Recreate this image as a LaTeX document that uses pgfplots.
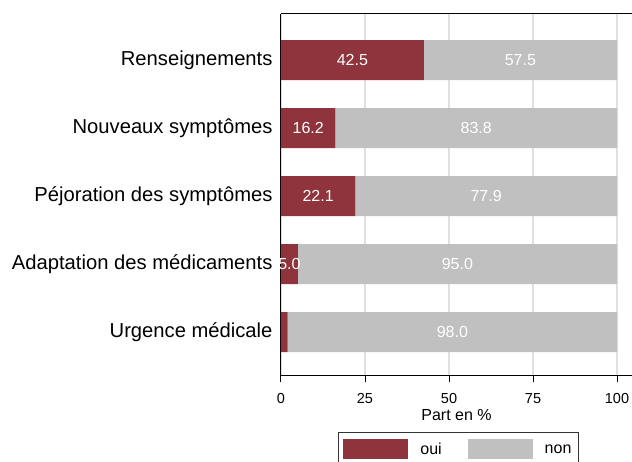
\documentclass[border=0pt]{standalone}
\usepackage{pgfplots}
\pgfplotsset{compat=1.18}
\usepackage{fontspec}
\setmainfont{Liberation Sans}
\definecolor{oui}{HTML}{8F343C}
\definecolor{non}{HTML}{C0C0C0}
\begin{document}
\begin{tikzpicture}
\begin{axis}[
    scale only axis,
    width=351bp, height=361bp,
    xbar stacked, bar width=40bp,
    xmin=0, xmax=104.46,
    ymin=-0.63, ymax=4.68,
    axis lines=left,
    axis line style={-, line width=1bp, black},
    ytick={0,...,4},
    yticklabels={Urgence médicale, Adaptation des médicaments, Péjoration des symptômes, Nouveaux symptômes, Renseignements},
    ytick style={draw=none},
    y tick label style={font=\fontsize{20.2bp}{24bp}\selectfont, xshift=2bp},
    xtick={0,25,50,75,100},
    tick align=outside,
    major tick length=7bp,
    xtick style={black, line width=1bp},
    x tick label style={font=\fontsize{14.5bp}{16bp}\selectfont, yshift=-8bp},
    /pgf/number format/assume math mode=true,
    xmajorgrids,
    grid style={line width=1.2bp, color=black!12},
    xlabel={Part en \%},
    xlabel style={font=\fontsize{16bp}{18bp}\selectfont, yshift=1bp},
    nodes near coords,
    point meta=explicit symbolic,
    every node near coord/.append style={anchor=center, white,
        font=\fontsize{16bp}{18bp}\selectfont},
    legend style={at={(0.1624,-0.158)}, anchor=north west,
        legend columns=2, draw=black!80, line width=0.8bp,
        inner xsep=5bp, inner ysep=7bp,
        font=\fontsize{16bp}{18bp}\selectfont,
        /tikz/every odd column/.append style={column sep=10bp},
        /tikz/every even column/.append style={column sep=24bp}},
    legend image code/.code={\fill[#1] (0bp,-10bp) rectangle (65bp,10bp);},
]
\addplot[fill=oui, draw=none] coordinates {
    (2.0,0) [\mbox{}]
    (5.0,1) [5.0]
    (22.1,2) [22.1]
    (16.2,3) [16.2]
    (42.5,4) [42.5]
};
\addplot[fill=non, draw=none] coordinates {
    (98.0,0) [98.0]
    (95.0,1) [95.0]
    (77.9,2) [77.9]
    (83.8,3) [83.8]
    (57.5,4) [57.5]
};
\legend{oui, non}
\draw[line width=1bp] (rel axis cs:0,1) -- (rel axis cs:1,1);
\end{axis}
\pgfresetboundingbox
\path[use as bounding box] (-281bp,-87bp) rectangle (351bp,375bp);
\end{tikzpicture}
\end{document}
